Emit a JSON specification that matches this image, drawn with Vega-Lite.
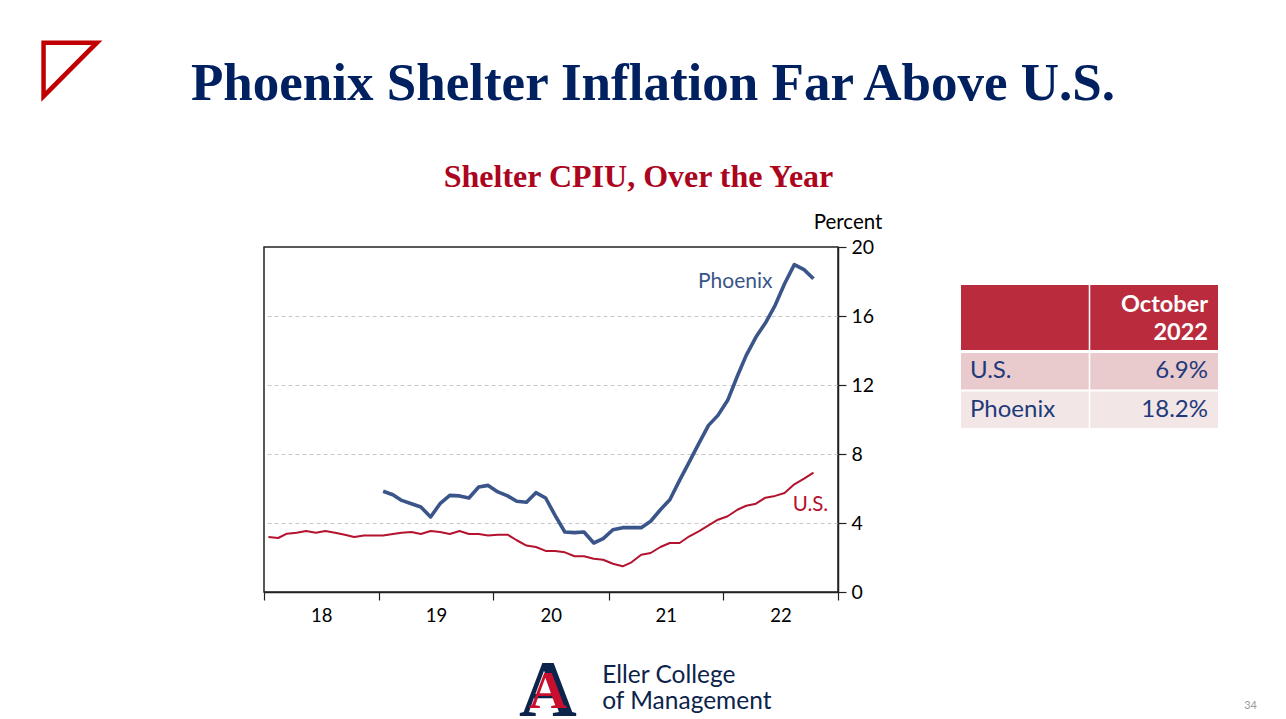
{
  "$schema": "https://vega.github.io/schema/vega-lite/v6.json",
  "autosize": {"type": "none"},
  "padding": {"left": 264, "top": 247, "right": 1022, "bottom": 472},
  "background": "white",
  "config": {"view": {"stroke": null}, "font": "Lato"},
  "title": {
    "text": "Phoenix Shelter Inflation Far Above U.S.",
    "frame": "group",
    "anchor": "middle",
    "dx": 389,
    "offset": -125,
    "baseline": "alphabetic",
    "font": "Liberation Serif",
    "fontSize": 53,
    "fontWeight": "bold",
    "color": "#002060"
  },
  "bounds": "flush",
  "spacing": 123,
  "resolve": {"scale": {"color": "independent"}},
  "hconcat": [
    {
      "width": 574,
      "height": 345,
      "view": {"stroke": "#222", "strokeWidth": 1.5},
      "title": {
        "text": "Shelter CPIU, Over the Year",
        "frame": "group",
        "anchor": "middle",
        "dx": 87.5,
        "dy": 7,
        "offset": 0,
        "baseline": "alphabetic",
        "font": "Liberation Serif",
        "fontSize": 32,
        "fontWeight": "bold",
        "color": "#AB0520"
      },
      "data": {
        "values": [
          {"date": "2018-01-15", "series": "U.S.", "value": 3.19},
          {"date": "2018-02-15", "series": "U.S.", "value": 3.13},
          {"date": "2018-03-15", "series": "U.S.", "value": 3.38},
          {"date": "2018-04-15", "series": "U.S.", "value": 3.44},
          {"date": "2018-05-15", "series": "U.S.", "value": 3.54},
          {"date": "2018-06-15", "series": "U.S.", "value": 3.44},
          {"date": "2018-07-15", "series": "U.S.", "value": 3.54},
          {"date": "2018-08-15", "series": "U.S.", "value": 3.44},
          {"date": "2018-09-15", "series": "U.S.", "value": 3.32},
          {"date": "2018-10-15", "series": "U.S.", "value": 3.19},
          {"date": "2018-11-15", "series": "U.S.", "value": 3.27},
          {"date": "2018-12-15", "series": "U.S.", "value": 3.27},
          {"date": "2019-01-15", "series": "U.S.", "value": 3.27},
          {"date": "2019-02-15", "series": "U.S.", "value": 3.36},
          {"date": "2019-03-15", "series": "U.S.", "value": 3.44},
          {"date": "2019-04-15", "series": "U.S.", "value": 3.48},
          {"date": "2019-05-15", "series": "U.S.", "value": 3.36},
          {"date": "2019-06-15", "series": "U.S.", "value": 3.54},
          {"date": "2019-07-15", "series": "U.S.", "value": 3.48},
          {"date": "2019-08-15", "series": "U.S.", "value": 3.36},
          {"date": "2019-09-15", "series": "U.S.", "value": 3.54},
          {"date": "2019-10-15", "series": "U.S.", "value": 3.36},
          {"date": "2019-11-15", "series": "U.S.", "value": 3.36},
          {"date": "2019-12-15", "series": "U.S.", "value": 3.27},
          {"date": "2020-01-15", "series": "U.S.", "value": 3.32},
          {"date": "2020-02-15", "series": "U.S.", "value": 3.32},
          {"date": "2020-03-15", "series": "U.S.", "value": 3.0},
          {"date": "2020-04-15", "series": "U.S.", "value": 2.69},
          {"date": "2020-05-15", "series": "U.S.", "value": 2.61},
          {"date": "2020-06-15", "series": "U.S.", "value": 2.38},
          {"date": "2020-07-15", "series": "U.S.", "value": 2.38},
          {"date": "2020-08-15", "series": "U.S.", "value": 2.30},
          {"date": "2020-09-15", "series": "U.S.", "value": 2.07},
          {"date": "2020-10-15", "series": "U.S.", "value": 2.07},
          {"date": "2020-11-15", "series": "U.S.", "value": 1.93},
          {"date": "2020-12-15", "series": "U.S.", "value": 1.87},
          {"date": "2021-01-15", "series": "U.S.", "value": 1.64},
          {"date": "2021-02-15", "series": "U.S.", "value": 1.49},
          {"date": "2021-03-15", "series": "U.S.", "value": 1.72},
          {"date": "2021-04-15", "series": "U.S.", "value": 2.16},
          {"date": "2021-05-15", "series": "U.S.", "value": 2.26},
          {"date": "2021-06-15", "series": "U.S.", "value": 2.61},
          {"date": "2021-07-15", "series": "U.S.", "value": 2.84},
          {"date": "2021-08-15", "series": "U.S.", "value": 2.84},
          {"date": "2021-09-15", "series": "U.S.", "value": 3.23},
          {"date": "2021-10-15", "series": "U.S.", "value": 3.52},
          {"date": "2021-11-15", "series": "U.S.", "value": 3.86},
          {"date": "2021-12-15", "series": "U.S.", "value": 4.19},
          {"date": "2022-01-15", "series": "U.S.", "value": 4.39},
          {"date": "2022-02-15", "series": "U.S.", "value": 4.77},
          {"date": "2022-03-15", "series": "U.S.", "value": 5.0},
          {"date": "2022-04-15", "series": "U.S.", "value": 5.12},
          {"date": "2022-05-15", "series": "U.S.", "value": 5.47},
          {"date": "2022-06-15", "series": "U.S.", "value": 5.57},
          {"date": "2022-07-15", "series": "U.S.", "value": 5.74},
          {"date": "2022-08-15", "series": "U.S.", "value": 6.24},
          {"date": "2022-09-15", "series": "U.S.", "value": 6.57},
          {"date": "2022-10-15", "series": "U.S.", "value": 6.92},
          {"date": "2019-01-15", "series": "Phoenix", "value": 5.84},
          {"date": "2019-02-15", "series": "Phoenix", "value": 5.64},
          {"date": "2019-03-15", "series": "Phoenix", "value": 5.31},
          {"date": "2019-04-15", "series": "Phoenix", "value": 5.12},
          {"date": "2019-05-15", "series": "Phoenix", "value": 4.93},
          {"date": "2019-06-15", "series": "Phoenix", "value": 4.35},
          {"date": "2019-07-15", "series": "Phoenix", "value": 5.12},
          {"date": "2019-08-15", "series": "Phoenix", "value": 5.60},
          {"date": "2019-09-15", "series": "Phoenix", "value": 5.57},
          {"date": "2019-10-15", "series": "Phoenix", "value": 5.45},
          {"date": "2019-11-15", "series": "Phoenix", "value": 6.09},
          {"date": "2019-12-15", "series": "Phoenix", "value": 6.18},
          {"date": "2020-01-15", "series": "Phoenix", "value": 5.80},
          {"date": "2020-02-15", "series": "Phoenix", "value": 5.57},
          {"date": "2020-03-15", "series": "Phoenix", "value": 5.26},
          {"date": "2020-04-15", "series": "Phoenix", "value": 5.20},
          {"date": "2020-05-15", "series": "Phoenix", "value": 5.76},
          {"date": "2020-06-15", "series": "Phoenix", "value": 5.45},
          {"date": "2020-07-15", "series": "Phoenix", "value": 4.44},
          {"date": "2020-08-15", "series": "Phoenix", "value": 3.48},
          {"date": "2020-09-15", "series": "Phoenix", "value": 3.44},
          {"date": "2020-10-15", "series": "Phoenix", "value": 3.48},
          {"date": "2020-11-15", "series": "Phoenix", "value": 2.84},
          {"date": "2020-12-15", "series": "Phoenix", "value": 3.09},
          {"date": "2021-01-15", "series": "Phoenix", "value": 3.61},
          {"date": "2021-02-15", "series": "Phoenix", "value": 3.73},
          {"date": "2021-03-15", "series": "Phoenix", "value": 3.73},
          {"date": "2021-04-15", "series": "Phoenix", "value": 3.73},
          {"date": "2021-05-15", "series": "Phoenix", "value": 4.10},
          {"date": "2021-06-15", "series": "Phoenix", "value": 4.77},
          {"date": "2021-07-15", "series": "Phoenix", "value": 5.35},
          {"date": "2021-08-15", "series": "Phoenix", "value": 6.47},
          {"date": "2021-09-15", "series": "Phoenix", "value": 7.54},
          {"date": "2021-10-15", "series": "Phoenix", "value": 8.60},
          {"date": "2021-11-15", "series": "Phoenix", "value": 9.66},
          {"date": "2021-12-15", "series": "Phoenix", "value": 10.24},
          {"date": "2022-01-15", "series": "Phoenix", "value": 11.11},
          {"date": "2022-02-15", "series": "Phoenix", "value": 12.52},
          {"date": "2022-03-15", "series": "Phoenix", "value": 13.72},
          {"date": "2022-04-15", "series": "Phoenix", "value": 14.78},
          {"date": "2022-05-15", "series": "Phoenix", "value": 15.59},
          {"date": "2022-06-15", "series": "Phoenix", "value": 16.62},
          {"date": "2022-07-15", "series": "Phoenix", "value": 17.87},
          {"date": "2022-08-15", "series": "Phoenix", "value": 18.98},
          {"date": "2022-09-15", "series": "Phoenix", "value": 18.69},
          {"date": "2022-10-15", "series": "Phoenix", "value": 18.16}
        ]
      },
      "encoding": {
        "x": {
          "field": "date",
          "type": "temporal",
          "scale": {"domain": [{"year": 2018, "month": 1, "date": 1}, {"year": 2023, "month": 1, "date": 1}]},
          "axis": {
            "title": ["Eller College", "of Management"],
            "titleX": 337.7,
            "titleY": 90.5,
            "titleAlign": "left",
            "titleBaseline": "alphabetic",
            "titleFont": "Lato",
            "titleFontSize": 24.5,
            "titleFontWeight": "normal",
            "titleColor": "#0C234B",
            "titleLineHeight": 26,
            "tickCount": {"interval": "year", "step": 1},
            "labelExpr": "year(datum.value) >= 2023 ? '' : timeFormat(datum.value, '%y')",
            "labelOffset": 57.3,
            "labelFlush": false,
            "labelOverlap": false,
            "labelFont": "Lato",
            "labelFontSize": 18.5,
            "labelColor": "#000",
            "labelPadding": 6,
            "tickSize": 8,
            "tickColor": "#222",
            "tickWidth": 1.2,
            "domainColor": "#222",
            "domainWidth": 1.5,
            "grid": false
          }
        },
        "y": {
          "field": "value",
          "type": "quantitative",
          "scale": {"domain": [0, 20]},
          "axis": {
            "orient": "right",
            "values": [0, 4, 8, 12, 16, 20],
            "title": "Percent",
            "titleAngle": 0,
            "titleX": 9.5,
            "titleY": -18.7,
            "titleAlign": "center",
            "titleBaseline": "alphabetic",
            "titleFont": "Lato",
            "titleFontSize": 20.5,
            "titleFontWeight": "normal",
            "titleColor": "#000",
            "labelFont": "Lato",
            "labelFontSize": 19.5,
            "labelColor": "#000",
            "labelPadding": 5,
            "tickSize": 8,
            "tickColor": "#222",
            "tickWidth": 1.2,
            "domainColor": "#222",
            "domainWidth": 1.5,
            "grid": true,
            "gridDash": [4, 3],
            "gridColor": "#c8c8c8",
            "gridOpacity": {"condition": {"test": "datum.value === 0 || datum.value === 20", "value": 0}, "value": 1}
          }
        }
      },
      "layer": [
        {
          "mark": {"type": "line", "strokeJoin": "round"},
          "encoding": {
            "color": {"field": "series", "type": "nominal", "scale": {"domain": ["Phoenix", "U.S."], "range": ["#3A5589", "#B4122E"]}, "legend": null},
            "strokeWidth": {"field": "series", "type": "nominal", "scale": {"domain": ["Phoenix", "U.S."], "range": [3.6, 2]}, "legend": null}
          }
        },
        {
          "transform": [{"filter": "datum.series === 'Phoenix' && year(datum.date) === 2022 && month(datum.date) === 9"}],
          "mark": {"type": "text", "align": "right", "baseline": "alphabetic", "dx": -41, "dy": 9, "font": "Lato", "fontSize": 21, "color": "#3A5589"},
          "encoding": {"text": {"field": "series"}}
        },
        {
          "transform": [{"filter": "datum.series === 'U.S.' && year(datum.date) === 2022 && month(datum.date) === 9"}],
          "mark": {"type": "text", "align": "center", "baseline": "alphabetic", "dx": -3, "dy": 38.7, "font": "Lato", "fontSize": 20.5, "color": "#B4122E"},
          "encoding": {"text": {"field": "series"}}
        }
      ]
    },
    {
      "bounds": "flush",
      "spacing": 3,
      "resolve": {"scale": {"color": "independent"}},
      "vconcat": [
        {
          "width": 257,
          "height": 35,
          "data": {"values": []},
          "mark": "text",
          "encoding": {
            "x": {"field": "k", "type": "quantitative", "scale": {"domain": [0, 1]},
              "axis": {"labels": false, "ticks": false, "domain": false, "grid": false, "title": "◸", "titleX": -889.5, "titleY": -214.5, "titleAlign": "center", "titleBaseline": "middle", "titleFont": "DejaVu Sans", "titleFontSize": 80, "titleFontWeight": "normal", "titleColor": "#C00000"}}
          }
        },
        {
          "width": 257,
          "height": 65,
          "data": {"values": [{"col": "label", "text": ""}, {"col": "value", "text": "October\n2022"}]},
          "encoding": {
            "x": {"field": "col", "type": "nominal", "scale": {"domain": ["label", "value"], "paddingInner": 0.012, "paddingOuter": 0},
              "axis": {"labels": false, "ticks": false, "domain": false, "title": "A", "titleX": -413.5, "titleY": 365, "titleAlign": "center", "titleBaseline": "alphabetic", "titleFont": "Liberation Serif", "titleFontSize": 80, "titleFontWeight": "bold", "titleColor": "#0C234B"}}
          },
          "layer": [
            {"mark": {"type": "rect", "color": "#BA2C3D"}},
            {
              "mark": {"type": "text", "align": "right", "baseline": "middle", "lineBreak": "\n", "lineHeight": 28, "dx": -10, "dy": -13, "font": "Lato", "fontWeight": "bold", "fontSize": 23.5, "color": "#ffffff"},
              "encoding": {"x": {"field": "col", "type": "nominal", "bandPosition": 1}, "text": {"field": "text"}}
            }
          ]
        },
        {
          "width": 257,
          "height": 75,
          "data": {"values": [
            {"row": "U.S.", "col": "label", "text": "U.S."},
            {"row": "U.S.", "col": "value", "text": "6.9%"},
            {"row": "Phoenix", "col": "label", "text": "Phoenix"},
            {"row": "Phoenix", "col": "value", "text": "18.2%"}
          ]},
          "encoding": {
            "x": {"field": "col", "type": "nominal", "scale": {"domain": ["label", "value"], "paddingInner": 0.012, "paddingOuter": 0},
              "axis": {"labels": false, "ticks": false, "domain": false, "title": "34", "titleX": 289, "titleY": 280, "titleAlign": "center", "titleBaseline": "alphabetic", "titleFont": "Lato", "titleFontSize": 11, "titleFontWeight": "normal", "titleColor": "#9a9a9a"}},
            "y": {"field": "row", "type": "nominal", "scale": {"domain": ["U.S.", "Phoenix"], "paddingInner": 0.05, "paddingOuter": 0},
              "axis": {"labels": false, "ticks": false, "domain": false, "title": "A", "titleAngle": 0, "titleX": -413.5, "titleY": 354, "titleAlign": "center", "titleBaseline": "alphabetic", "titleFont": "Liberation Serif", "titleFontSize": 53, "titleFontWeight": "bold", "titleColor": "#C8102E"}}
          },
          "layer": [
            {"mark": "rect", "encoding": {"color": {"field": "row", "type": "nominal", "scale": {"domain": ["U.S.", "Phoenix"], "range": ["#E9CBCE", "#F2E6E7"]}, "legend": null}}},
            {
              "transform": [{"filter": "datum.col === 'label'"}],
              "mark": {"type": "text", "align": "left", "baseline": "middle", "dx": 9, "font": "Lato", "fontSize": 24, "color": "#1F3A7A"},
              "encoding": {"x": {"field": "col", "type": "nominal", "bandPosition": 0}, "text": {"field": "text"}}
            },
            {
              "transform": [{"filter": "datum.col === 'value'"}],
              "mark": {"type": "text", "align": "right", "baseline": "middle", "dx": -10, "font": "Lato", "fontSize": 24, "color": "#1F3A7A"},
              "encoding": {"x": {"field": "col", "type": "nominal", "bandPosition": 1}, "text": {"field": "text"}}
            }
          ]
        }
      ]
    }
  ]
}
